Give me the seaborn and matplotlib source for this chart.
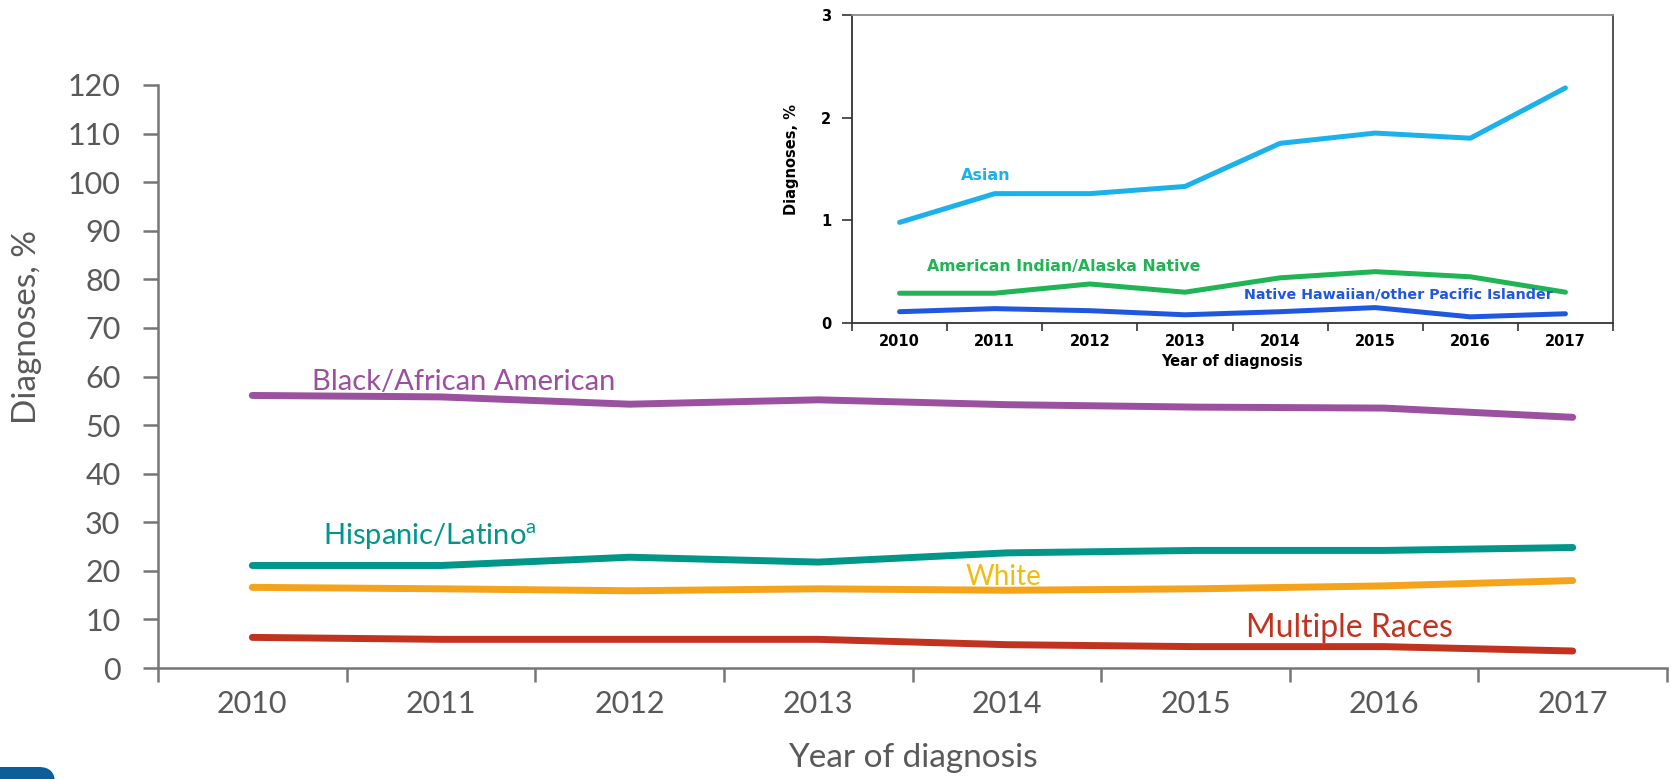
import numpy as np
import pandas as pd
import seaborn as sns
import matplotlib.pyplot as plt
from matplotlib.patches import FancyBboxPatch

# ---------------- data ----------------
years = ["2010", "2011", "2012", "2013", "2014", "2015", "2016", "2017"]

black = [56.1, 55.8, 54.3, 55.2, 54.2, 53.7, 53.5, 51.6]
hispanic = [21.1, 21.1, 22.8, 21.8, 23.7, 24.2, 24.2, 24.8]
white = [16.6, 16.3, 15.9, 16.3, 16.0, 16.3, 16.9, 18.0]
multiple = [6.3, 5.9, 5.9, 5.9, 4.8, 4.4, 4.4, 3.5]

asian = [0.98, 1.26, 1.26, 1.33, 1.75, 1.85, 1.80, 2.29]
aian = [0.29, 0.29, 0.38, 0.30, 0.44, 0.50, 0.45, 0.30]
nhpi = [0.11, 0.14, 0.12, 0.08, 0.11, 0.15, 0.06, 0.09]

main_names = ["Black/African American", "Hispanic/Latino", "White", "Multiple Races"]
inset_names = ["Asian", "American Indian/Alaska Native", "Native Hawaiian/other Pacific Islander"]

main_colors = {"Black/African American": "#9b51a0", "Hispanic/Latino": "#00968a",
               "White": "#f5a31b", "Multiple Races": "#c1321f"}
inset_colors = {"Asian": "#1bb2ec", "American Indian/Alaska Native": "#1fb454",
                "Native Hawaiian/other Pacific Islander": "#1f57e0"}

idx = np.arange(len(years))
main_df = pd.DataFrame({
    "x": np.tile(idx, 4),
    "value": black + hispanic + white + multiple,
    "group": np.repeat(main_names, len(years)),
})
inset_df = pd.DataFrame({
    "x": np.tile(idx, 3),
    "value": asian + aian + nhpi,
    "group": np.repeat(inset_names, len(years)),
})

# ---------------- style ----------------
sns.set_style("white")
plt.rcParams["font.family"] = ["Lato", "DejaVu Sans"]
plt.rcParams["mathtext.fontset"] = "custom"
plt.rcParams["mathtext.rm"] = "Lato"
plt.rcParams["mathtext.it"] = "Lato:italic"
plt.rcParams["mathtext.bf"] = "Lato:bold"

W, H = 1671, 779
fig = plt.figure(figsize=(W / 100, H / 100), dpi=100)

def frac(x0, y0, x1, y1):
    return [x0 / W, 1 - y1 / H, (x1 - x0) / W, (y1 - y0) / H]

gray = "#595959"
spine_gray = "#767676"

# ---------------- main axes ----------------
ax = fig.add_axes(frac(158, 85, 1667, 668))
sns.lineplot(data=main_df, x="x", y="value", hue="group", palette=main_colors,
             hue_order=main_names, linewidth=5, legend=False, ax=ax,
             solid_capstyle="round")
ax.set_xlim(-0.5, 7.5)
ax.set_ylim(0, 120)
ax.set_yticks(np.arange(0, 121, 10))
ax.set_xticks(np.arange(-0.5, 7.6, 1.0))
ax.set_xticklabels([])
ax.set_xticks(idx, minor=True)
ax.set_xticklabels(years, minor=True)
ax.tick_params(axis="x", which="major", direction="out", length=10, width=1.8,
               color=spine_gray, bottom=True)
ax.tick_params(axis="x", which="minor", length=0, pad=16, labelsize=22, labelcolor=gray)
ax.tick_params(axis="y", direction="out", length=11, width=1.8, color=spine_gray,
               pad=16, labelsize=22, labelcolor=gray, left=True)
for s in ["top", "right"]:
    ax.spines[s].set_visible(False)
for s in ["left", "bottom"]:
    ax.spines[s].set_color(spine_gray)
    ax.spines[s].set_linewidth(1.8)
ax.set_xlabel("Year of diagnosis", fontsize=24, color=gray)
ax.xaxis.set_label_coords(0.5, -0.128)
ax.set_ylabel("Diagnoses, %", fontsize=24, color=gray)
ax.yaxis.set_label_coords(-0.077, 0.585)
ax.grid(False)

ax.text(0.317, 58.9, "Black/African American", color="#9b4f9e", fontsize=21,
        ha="left", va="center")
ax.text(0.375, 27.2, r"Hispanic/Latino$^{\mathrm{a}}$", color="#00968a", fontsize=21,
        ha="left", va="center")
ax.text(3.98, 18.7, "White", color="#f2bb10", fontsize=20, ha="center", va="center")
ax.text(5.27, 8.2, "Multiple Races", color="#c1321f", fontsize=23, ha="left", va="center")

# ---------------- inset axes ----------------
ia = fig.add_axes(frac(852, 15, 1613, 323))
sns.lineplot(data=inset_df, x="x", y="value", hue="group", palette=inset_colors,
             hue_order=inset_names, linewidth=3.6, legend=False, ax=ia,
             solid_capstyle="round")
ia.set_xlim(-0.5, 7.5)
ia.set_ylim(0, 3)
ia.set_yticks([0, 1, 2, 3])
ia.set_xticks(np.arange(-0.5, 7.6, 1.0))
ia.set_xticklabels([])
ia.set_xticks(idx, minor=True)
ia.set_xticklabels(years, minor=True)
bold = dict(family=["DejaVu Sans"], fontweight="bold")
for lab in ia.get_xticklabels(minor=True) + ia.get_yticklabels():
    lab.set_fontweight("bold")
    lab.set_family(["DejaVu Sans"])
ia.tick_params(axis="x", which="major", direction="out", length=6, width=1.2,
               color="#333333", bottom=True)
ia.tick_params(axis="x", which="minor", length=0, pad=8, labelsize=10.5, labelcolor="black")
ia.tick_params(axis="y", direction="out", length=7, width=1.2, color="#333333",
               pad=8, labelsize=10.5, labelcolor="black", left=True)
for s in ["left", "bottom"]:
    ia.spines[s].set_color("#333333")
    ia.spines[s].set_linewidth(1.3)
ia.spines["top"].set_color("#8a8a8a")
ia.spines["top"].set_linewidth(1.3)
ia.spines["right"].set_color("#444444")
ia.spines["right"].set_linewidth(1.3)
ia.set_xlabel("Year of diagnosis", fontsize=10.5, color="black", **bold)
ia.xaxis.set_label_coords(0.5, -0.10)
ia.set_ylabel("Diagnoses, %", fontsize=10.5, color="black", **bold)
ia.yaxis.set_label_coords(-0.07, 0.53)
ia.grid(False)
ia.set_facecolor("white")

ia.text(0.646, 1.44, "Asian", color="#1bb2ec", fontsize=11.5, ha="left", va="center", **bold)
ia.text(0.289, 0.555, "American Indian/Alaska Native", color="#1fb454", fontsize=11.3,
        ha="left", va="center", **bold)
ia.text(3.62, 0.28, "Native Hawaiian/other Pacific Islander", color="#1f57e0",
        fontsize=10.3, ha="left", va="center", **bold)

# ---------------- bottom-left logo fragment ----------------
logo = FancyBboxPatch((-40, -40), 95, 52, boxstyle="round,pad=0,rounding_size=16",
                      transform=None, facecolor="#0b5e97", edgecolor="none")
fig.patches.append(logo)

fig.savefig("out.png", dpi=100)
